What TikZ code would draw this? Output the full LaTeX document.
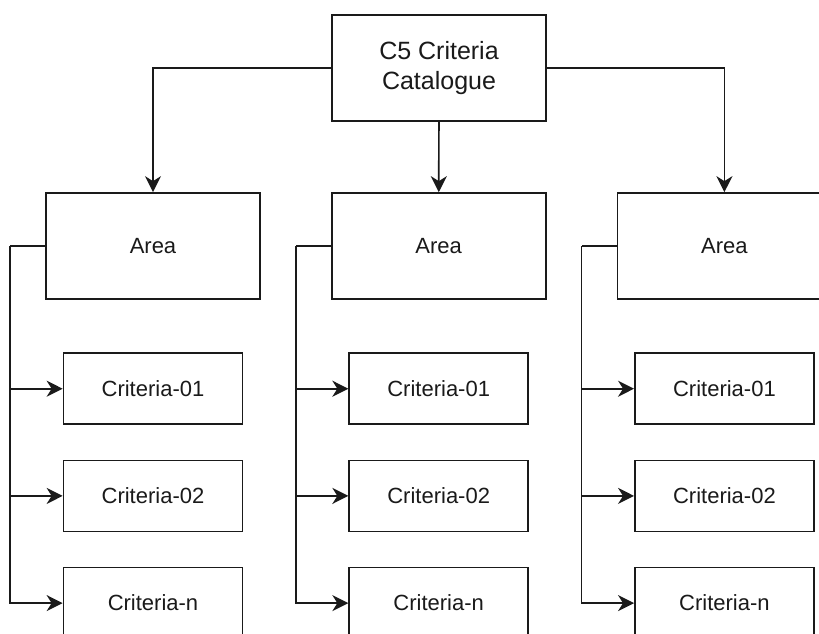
\documentclass[tikz,border=0pt]{standalone}
\usepackage{fontspec}
\setmainfont{Liberation Sans}
\usepackage{tikz}
\usetikzlibrary{arrows.meta,positioning,calc}
\definecolor{inkd}{HTML}{1A1A1A}
\tikzset{
  box/.style={rectangle, draw=inkd, fill=white, line width=1.7pt, align=center,
              inner sep=0pt, font=\fontsize{22pt}{26pt}\selectfont, text=inkd},
  boxtop/.style={box, minimum width=214pt, minimum height=106pt,
                 font=\fontsize{25pt}{30pt}\selectfont},
  boxarea/.style={box, minimum width=214pt, minimum height=106pt},
  boxcrit/.style={box, minimum width=179pt, minimum height=71pt},
  fl/.style={-{Stealth[length=16pt, width=16pt, inset=5pt]}, line width=1.7pt, draw=inkd},
  ln/.style={line width=1.7pt, draw=inkd},
}
\begin{document}
\begin{tikzpicture}[x=1pt, y=1pt]
  \clip (0,0) rectangle (819,-633);
  \node[boxtop] (cat) at (439,-68) {C5 Criteria\\Catalogue};
  % areas
  \node[boxarea] (a1) at (153,-246) {Area};
  \node[boxarea, right=70pt of a1] (a2) {Area};
  \node[boxarea, right=70pt of a2] (a3) {Area};
  % criteria per area
  \node[boxcrit, below=52.5pt of a1] (c11) {Criteria-01};
  \node[boxcrit, below=34.5pt of c11] (c12) {Criteria-02};
  \node[boxcrit, below=34.5pt of c12] (c1n) {Criteria-n};
  \node[boxcrit, below=52.5pt of a2] (c21) {Criteria-01};
  \node[boxcrit, below=34.5pt of c21] (c22) {Criteria-02};
  \node[boxcrit, below=34.5pt of c22] (c2n) {Criteria-n};
  \node[boxcrit, below=52.5pt of a3] (c31) {Criteria-01};
  \node[boxcrit, below=34.5pt of c31] (c32) {Criteria-02};
  \node[boxcrit, below=34.5pt of c32] (c3n) {Criteria-n};
  % catalogue -> areas
  \draw[fl] (cat.west) -| (a1.north);
  \draw[fl] (cat) -- (a2);
  \draw[fl] (cat.east) -| (a3.north);
  % spines
  \coordinate (s1) at ($(a1.west)+(-35pt,0)$);
  \coordinate (s2) at ($(a2.west)+(-35pt,0)$);
  \coordinate (s3) at ($(a3.west)+(-35pt,0)$);
  \draw[ln] (a1.west) -- (s1);
  \draw[ln] (a2.west) -- (s2);
  \draw[ln] (a3.west) -- (s3);
  \draw[fl] (s1) |- (c11.west);
  \draw[fl] (s1) |- (c12.west);
  \draw[fl] (s1) |- (c1n.west);
  \draw[fl] (s2) |- (c21.west);
  \draw[fl] (s2) |- (c22.west);
  \draw[fl] (s2) |- (c2n.west);
  \draw[fl] (s3) |- (c31.west);
  \draw[fl] (s3) |- (c32.west);
  \draw[fl] (s3) |- (c3n.west);
\end{tikzpicture}
\end{document}
